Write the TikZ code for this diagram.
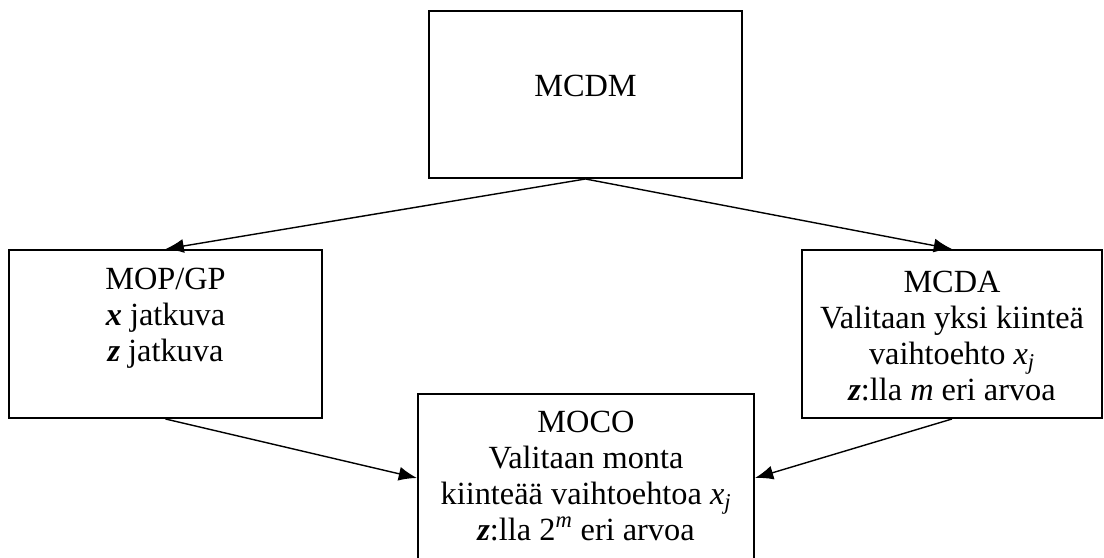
\documentclass[tikz,border=0pt]{standalone}
\usepackage{fontspec}
\setmainfont{Liberation Serif}
\usetikzlibrary{arrows.meta}

\begin{document}
\begin{tikzpicture}[
    boite/.style={draw, line width=1.4pt, inner sep=0pt, font=\fontsize{23}{25.5}\selectfont},
    fleche/.style={-{Latex[length=13pt,width=10pt]}, line width=1pt}
  ]
    % Cadre
    \useasboundingbox (0,0) rectangle (27.6,-13.95) ;
    \clip (0,0) rectangle (27.6,-13.95) ;
    % Boites
    \node[boite] (mcdm) at (14.6375,-2.3625) {\parbox[c][4.175cm][t]{7.825cm}{\centering\vspace*{1.61cm}MCDM}} ;
    \node[boite] (mop)  at ( 4.1375,-8.35)   {\parbox[c][4.2cm][t]{7.825cm}{\centering\vspace*{0.46cm}MOP/GP\\
        \textbf{\textit{x}} jatkuva\\ \textbf{\textit{z}} jatkuva}} ;
    \node[boite] (mcda) at (23.8,-8.35)      {\parbox[c][4.2cm][t]{7.5cm}{\centering\vspace*{0.53cm}MCDA\\
        Valitaan yksi kiinteä\\ vaihtoehto \textit{x}\textsubscript{\textit{j}}\\
        \textbf{\textit{z}}:lla \textit{m} eri arvoa}} ;
    \node[boite] (moco) at (14.65,-11.95)    {\parbox[c][4.2cm][t]{8.4cm}{\centering\vspace*{0.43cm}MOCO\\
        Valitaan monta\\ kiinteää vaihtoehtoa \textit{x}\textsubscript{\textit{j}}\\
        \textbf{\textit{z}}:lla 2\textsuperscript{\textit{m}} eri arvoa}} ;
    % Fleches
    \draw[fleche] (mcdm.south) -- (mop.north) ;
    \draw[fleche] (mcdm.south) -- (mcda.north) ;
    \draw[fleche] (mop.south) -- (moco.west) ;
    \draw[fleche] (mcda.south) -- (moco.east) ;
\end{tikzpicture}
\end{document}
